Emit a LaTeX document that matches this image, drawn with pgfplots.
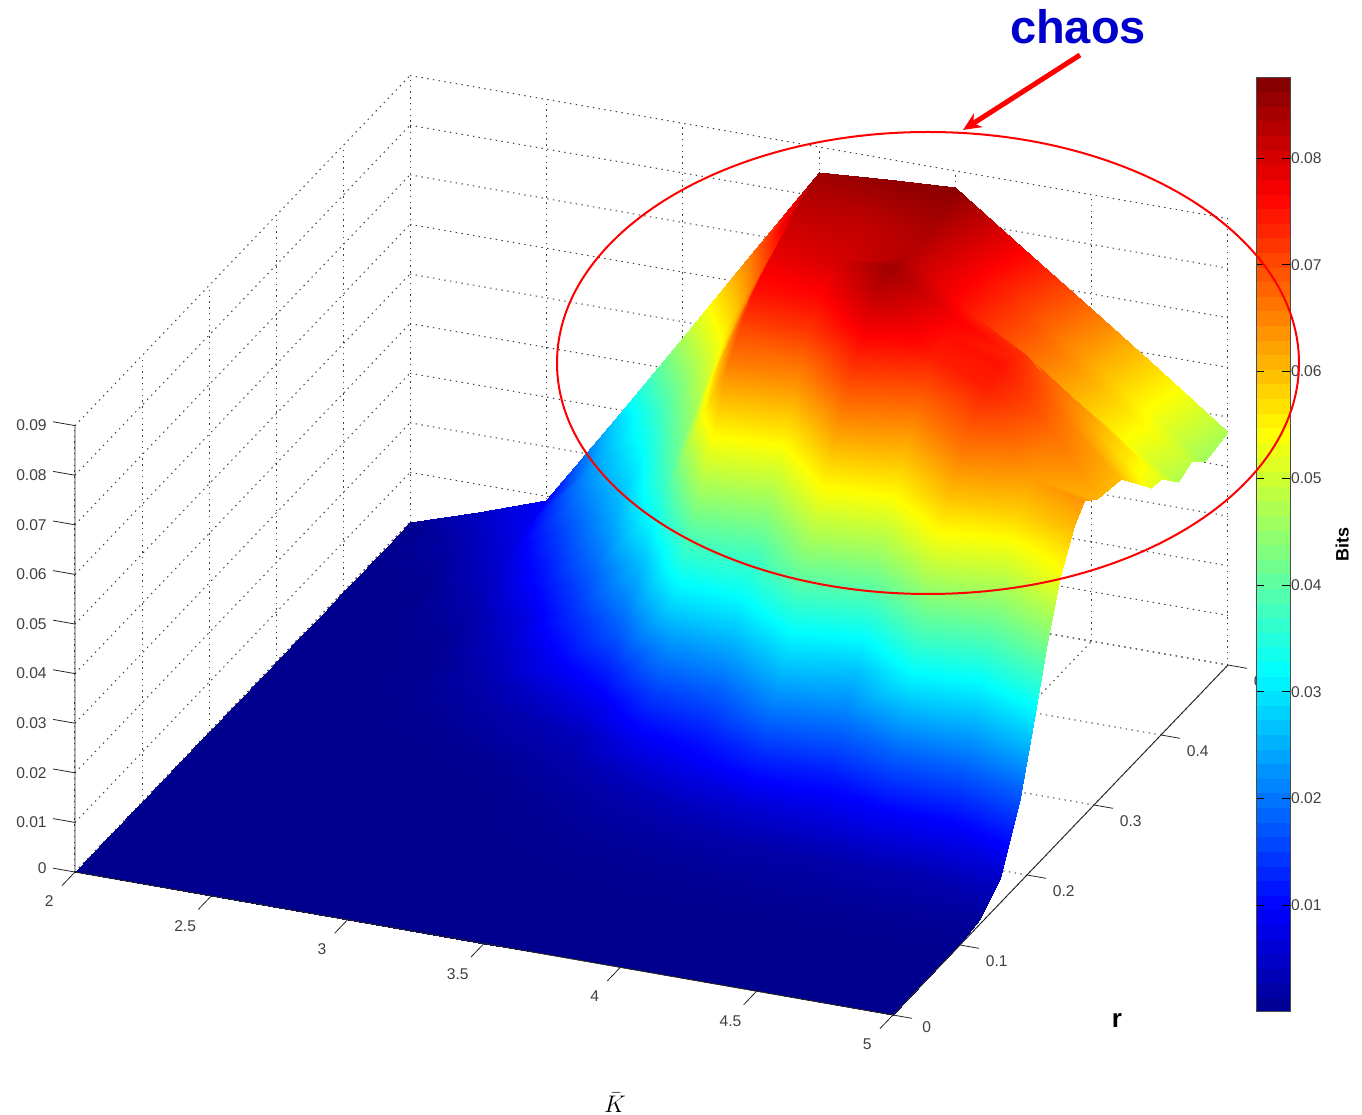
\documentclass[border=0pt]{standalone}
\usepackage{pgfplots}
\pgfplotsset{compat=1.18}
\usetikzlibrary{arrows.meta}
\usepackage{fontspec}
\setmainfont{Liberation Sans}
\definecolor{lab}{gray}{0.25}
\begin{document}
\begin{tikzpicture}
\path[use as bounding box] (0pt,0pt) rectangle (681pt,557.5pt);
\begin{axis}[
  at={(37.5pt,50pt)}, anchor=south west, clip=false,
  x={(136.33pt,-23.83pt)}, y={(335pt,350pt)}, z={(0pt,2480pt)},
  xmin=2,xmax=5,ymin=0,ymax=0.5,zmin=0,zmax=0.09,
  xtick={2,2.5,3,3.5,4,4.5,5}, xticklabels={2,2.5,3,3.5,4,4.5,5},
  ytick={0,0.1,0.2,0.3,0.4,0.5}, yticklabels={0,0.1,0.2,0.3,0.4,0.5},
  ztick={0,0.01,...,0.09}, zticklabels={0,0.01,0.02,0.03,0.04,0.05,0.06,0.07,0.08,0.09},
  scaled z ticks=false,
  tick pos=left,
  grid=major, major grid style={dash pattern=on 0.7pt off 2.2pt,black!75,line width=0.5pt},
  major tick style={draw=none}, major tick length=6pt,
  tick align=outside,
  axis line style={draw=none},
  tick label style={font=\fontsize{7.8}{9}\selectfont,text=lab},
  xticklabel style={xshift=-6pt,yshift=-3.5pt},
  yticklabel style={xshift=5.5pt,yshift=1.5pt},
  zticklabel style={xshift=-6.5pt,yshift=8pt},
  colormap={mjet}{rgb(0pt)=(0,0,.5625); rgb(7pt)=(0,0,1); rgb(23pt)=(0,1,1); rgb(39pt)=(1,1,0); rgb(55pt)=(1,0,0); rgb(63pt)=(.5,0,0)},
  point meta min=0, point meta max=0.0876,
  colorbar sampled,
  colorbar style={samples=65, at={(619.5pt,51.5pt)}, anchor=south west,
    width=17pt, height=467.5pt,
    ytick={0.01,0.02,...,0.08}, yticklabels={0.01,0.02,0.03,0.04,0.05,0.06,0.07,0.08},
    scaled y ticks=false, tick align=inside, ytick pos=both, yticklabel pos=right,
    major tick length=4pt, major tick style={draw=black,line width=0.4pt},
    yticklabel style={font=\fontsize{7.8}{9}\selectfont,text=lab,xshift=-3pt,yshift=0pt},
    axis line style={draw=black!70,line width=0.5pt},
    ylabel={Bits}, ylabel style={at={(axis description cs:2.53,0.5)},anchor=center,font=\bfseries\fontsize{9}{10}\selectfont}},
]
\addplot3[surf, shader=interp, z buffer=sort, mesh/rows=20, mesh/cols=13]
 coordinates {
(2,0,0)(2.25,0,0)(2.5,0,0)(2.75,0,0)(3,0,0)(3.25,0,0)(3.5,0,0)(3.75,0,0)(4,0,0)(4.25,0,0)(4.5,0,0)(4.75,0,0)(5,0,0)
(2,.05,0)(2.25,.05,0)(2.5,.05,0)(2.75,.05,0)(3,.05,0)(3.25,.05,0)(3.5,.05,0)(3.75,.05,0)(4,.05,0)(4.25,.05,0)(4.5,.05,0)(4.75,.05,0)(5,.05,0)
(2,.1,0)(2.25,.1,0)(2.5,.1,0)(2.75,.1,0)(3,.1,0)(3.25,.1,0)(3.5,.1,.0001)(3.75,.1,.0002)(4,.1,.0002)(4.25,.1,.0002)(4.5,.1,.0002)(4.75,.1,.0002)(5,.1,.0002)
(2,.13,0)(2.25,.13,0)(2.5,.13,0)(2.75,.13,0)(3,.13,0)(3.25,.13,.0001)(3.5,.13,.0004)(3.75,.13,.0006)(4,.13,.0008)(4.25,.13,.001)(4.5,.13,.001)(4.75,.13,.001)(5,.13,.001)
(2,.16,0)(2.25,.16,0)(2.5,.16,0)(2.75,.16,0)(3,.16,0)(3.25,.16,.0003)(3.5,.16,.001)(3.75,.16,.0015)(4,.16,.002)(4.25,.16,.002)(4.5,.16,.0025)(4.75,.16,.003)(5,.16,.005)
(2,.19,0)(2.25,.19,0)(2.5,.19,0)(2.75,.19,0)(3,.19,0)(3.25,.19,.0008)(3.5,.19,.002)(3.75,.19,.004)(4,.19,.006)(4.25,.19,.007)(4.5,.19,.009)(4.75,.19,.01)(5,.19,.017)
(2,.21,0)(2.25,.21,0)(2.5,.21,0)(2.75,.21,0)(3,.21,.0003)(3.25,.21,.0015)(3.5,.21,.004)(3.75,.21,.008)(4,.21,.013)(4.25,.21,.012)(4.5,.21,.018)(4.75,.21,.019)(5,.21,.03)
(2,.23,0)(2.25,.23,0)(2.5,.23,0)(2.75,.23,.0002)(3,.23,.0008)(3.25,.23,.0025)(3.5,.23,.008)(3.75,.23,.012)(4,.23,.022)(4.25,.23,.02)(4.5,.23,.032)(4.75,.23,.03)(5,.23,.0425)
(2,.25,0)(2.25,.25,0)(2.5,.25,.0001)(2.75,.25,.0005)(3,.25,.002)(3.25,.25,.004)(3.5,.25,.014)(3.75,.25,.018)(4,.25,.03)(4.25,.25,.026)(4.5,.25,.042)(4.75,.25,.04)(5,.25,.053)
(2,.27,0)(2.25,.27,0)(2.5,.27,.0001)(2.75,.27,.001)(3,.27,.003)(3.25,.27,.008)(3.5,.27,.022)(3.75,.27,.026)(4,.27,.04)(4.25,.27,.036)(4.5,.27,.054)(4.75,.27,.05)(5,.27,.0605)
(2,.285,0)(2.25,.285,0)(2.5,.285,.0002)(2.75,.285,.0015)(3,.285,.005)(3.25,.285,.012)(3.5,.285,.03)(3.75,.285,.032)(4,.285,.047)(4.25,.285,.045)(4.5,.285,.06)(4.75,.285,.058)(5,.285,.0635)
(2,.305,0)(2.25,.305,0)(2.5,.305,.0003)(2.75,.305,.0025)(3,.305,.0085)(3.25,.305,.018)(3.5,.305,.038)(3.75,.305,.038)(4,.305,.056)(4.25,.305,.054)(4.5,.305,.066)(4.75,.305,.063)(5,.305,.061)
(2,.34,0)(2.25,.34,0)(2.5,.34,.0005)(2.75,.34,.005)(3,.34,.014)(3.25,.34,.027)(3.5,.34,.054)(3.75,.34,.052)(4,.34,.07)(4.25,.34,.066)(4.5,.34,.074)(4.75,.34,.067)(5,.34,.06)
(2,.365,0)(2.25,.365,0)(2.5,.365,.001)(2.75,.365,.007)(3,.365,.018)(3.25,.365,.035)(3.5,.365,.066)(3.75,.365,.064)(4,.365,.078)(4.25,.365,.074)(4.5,.365,.075)(4.75,.365,.0655)(5,.365,.0555)
(2,.385,0)(2.25,.385,0)(2.5,.385,.002)(2.75,.385,.01)(3,.385,.022)(3.25,.385,.04)(3.5,.385,.071)(3.75,.385,.072)(4,.385,.083)(4.25,.385,.0755)(4.5,.385,.0735)(4.75,.385,.063)(5,.385,.052)
(2,.4,0)(2.25,.4,.0001)(2.5,.4,.003)(2.75,.4,.012)(3,.4,.025)(3.25,.4,.043)(3.5,.4,.075)(3.75,.4,.076)(4,.4,.085)(4.25,.4,.077)(4.5,.4,.072)(4.75,.4,.062)(5,.4,.0516)
(2,.425,0)(2.25,.425,.0003)(2.5,.425,.005)(2.75,.425,.016)(3,.425,.029)(3.25,.425,.048)(3.5,.425,.078)(3.75,.425,.08)(4,.425,.083)(4.25,.425,.074)(4.5,.425,.065)(4.75,.425,.056)(5,.425,.0474)
(2,.445,0)(2.25,.445,.001)(2.5,.445,.0065)(2.75,.445,.02)(3,.445,.033)(3.25,.445,.052)(3.5,.445,.08)(3.75,.445,.081)(4,.445,.083)(4.25,.445,.074)(4.5,.445,.066)(4.75,.445,.057)(5,.445,.0486)
(2,.465,0)(2.25,.465,.002)(2.5,.465,.008)(2.75,.465,.023)(3,.465,.037)(3.25,.465,.056)(3.5,.465,.082)(3.75,.465,.082)(4,.465,.084)(4.25,.465,.0745)(4.5,.465,.065)(4.75,.465,.0555)(5,.465,.046)
(2,.5,0)(2.25,.5,.0045)(2.5,.5,.0093)(2.75,.5,.028)(3,.5,.047)(3.25,.5,.066)(3.5,.5,.085)(3.75,.5,.086)(4,.5,.0867)(4.25,.5,.0768)(4.5,.5,.0669)(4.75,.5,.057)(5,.5,.047)
};
% axis lines and tick marks, in the plane of the box as in the original
\draw[black!85,line width=0.45pt] (axis cs:2,0,0.09) -- (axis cs:2,0,0) -- (axis cs:5,0,0) -- (axis cs:5,0.5,0);
\pgfplotsinvokeforeach{2,2.5,3,3.5,4,4.5,5}{\draw[black!85,line width=0.4pt] (axis cs:#1,0,0) -- (axis cs:#1,-0.0194,0);}
\pgfplotsinvokeforeach{0,0.1,0.2,0.3,0.4,0.5}{\draw[black!85,line width=0.4pt] (axis cs:5,#1,0) -- (axis cs:5.07,#1,0);}
\pgfplotsinvokeforeach{0,0.01,0.02,0.03,0.04,0.05,0.06,0.07,0.08,0.09}{\draw[black!85,line width=0.4pt] (axis cs:2,0,#1) -- (axis cs:1.92,0,#1);}
\end{axis}
\begin{scope}[shift={(0pt,557.5pt)},x=.5pt,y=-.5pt]
\draw[red,line width=1pt] (928,363) ellipse [x radius=371, y radius=231];
\draw[red,line width=2.5pt,-{Stealth[length=9pt,width=8pt]}] (1080,55) -- (963,130);
\node[text=blue!80!black,font=\bfseries\fontsize{23.5}{26}\selectfont] at (1078,27) {chaos};
\node[font=\fontsize{12}{14}\selectfont] at (615,1103) {$\bar{K}$};
\node[font=\bfseries\fontsize{13}{14}\selectfont] at (1117,1020) {r};
\end{scope}
\end{tikzpicture}
\end{document}
